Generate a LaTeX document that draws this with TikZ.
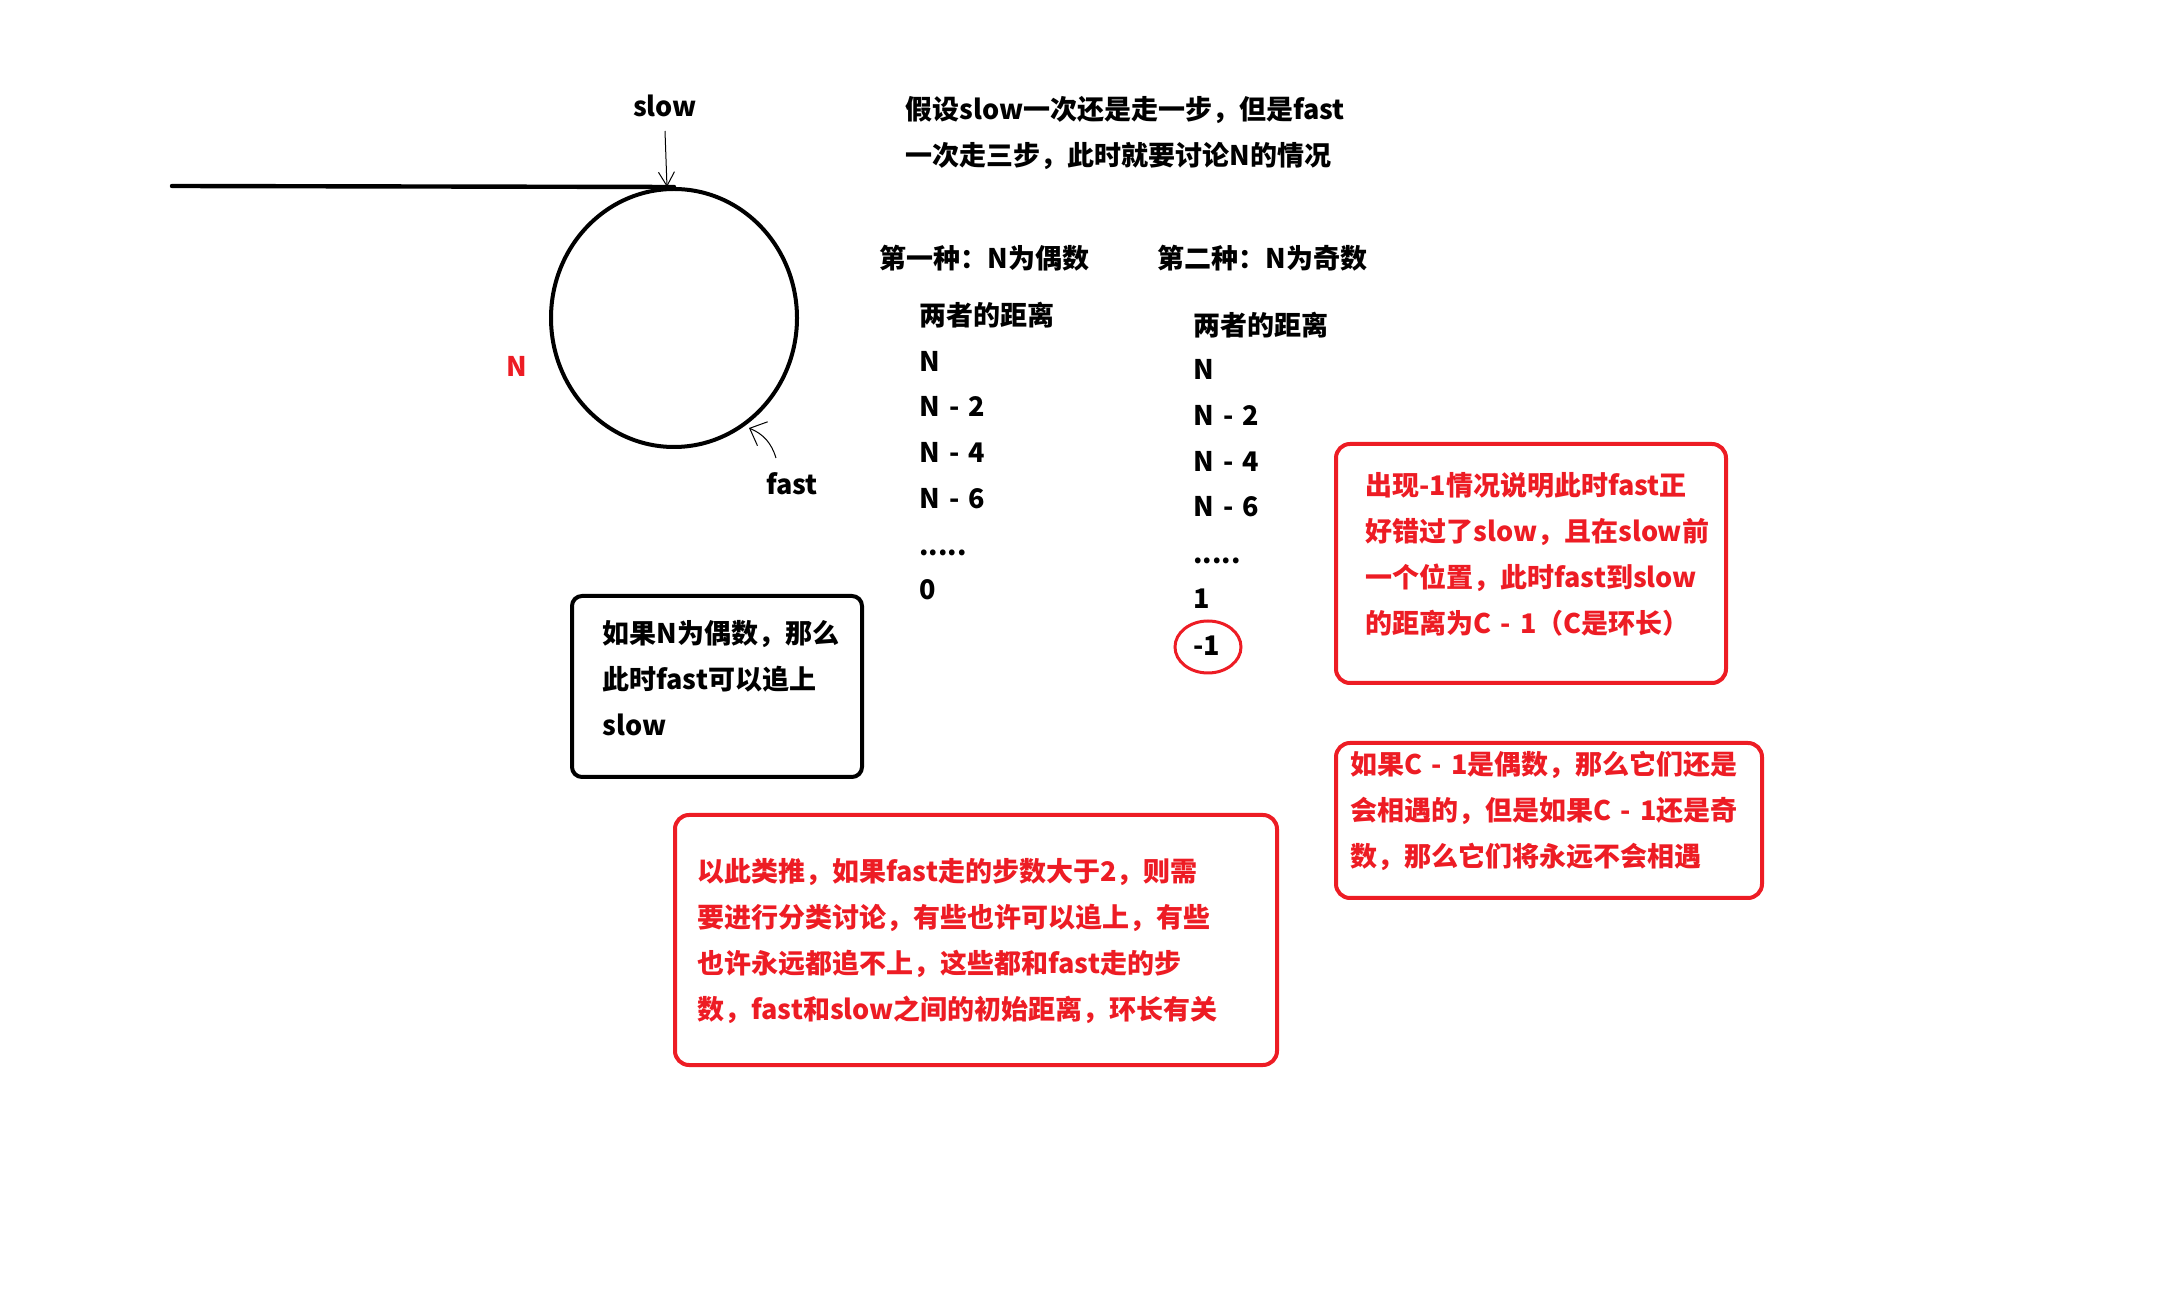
\documentclass[tikz,border=0pt]{standalone}
\usepackage{fontspec}
\setmainfont{Noto Sans CJK SC}
\usetikzlibrary{arrows.meta,shapes.geometric}
\definecolor{pred}{RGB}{237,28,36}
\newcommand{\dsp}{\hspace{0.34em}}
\begin{document}
\begin{tikzpicture}[x=0.5pt,y=-0.5pt,
  txt/.style={font=\bfseries\fontsize{13.5}{23}\selectfont, inner sep=0pt, anchor=west, align=left},
  rtxt/.style={txt, text=pred},
  bbox/.style={draw=black, line width=2pt, rounded corners=5pt, inner sep=0pt},
  rbox/.style={draw=pred, line width=2pt, rounded corners=7pt, inner sep=0pt},
  thin/.style={line width=0.5pt},
]
\useasboundingbox (0,0) rectangle (2160,1304);

% ring and tail
\node[draw, ellipse, line width=2pt, inner sep=0pt, minimum width=123pt, minimum height=129pt] (ring) at (674,318) {};
\coordinate (tailstart) at (172,186);
\draw[line width=2.2pt, line cap=round] (tailstart) -- (ring.north);

\node[txt, anchor=center] (slowlbl) at (665,106) {slow};
\coordinate (slowtail) at (665,131);
\coordinate (slowtip) at (667,187);
\draw[thin, -{Straight Barb[length=7pt,width=8pt]}] (slowtail) -- (slowtip);

\node[rtxt, anchor=center] (nlbl) at (517,366) {N};

\node[txt, anchor=center] (fastlbl) at (792,484) {fast};
\coordinate (fasttail) at (776,458);
\coordinate (fasttip) at (749,428);
\draw[thin, -{Straight Barb[length=7pt,width=13pt]}] (fasttail) to[bend right=25] (fasttip);

% title
\node[txt] (title) at (905,133.5) {假设slow一次还是走一步，但是fast\\一次走三步，此时就要讨论N的情况};

\node[txt] (case1) at (879,258) {第一种：N为偶数};
\node[txt] (case2) at (1157,258) {第二种：N为奇数};

% left column
\node[txt] (l0) at (919,315) {两者的距离};
\node[txt] (l1) at (919,361) {N};
\node[txt] (l2) at (919,406) {N\dsp-\dsp2};
\node[txt] (l3) at (919,452) {N\dsp-\dsp4};
\node[txt] (l4) at (919,499) {N\dsp-\dsp6};
\node[txt] (l5) at (919,553) {.....};
\node[txt] (l6) at (919,590) {0};

% right column
\node[txt] (r0) at (1193,325) {两者的距离};
\node[txt] (r1) at (1193,369) {N};
\node[txt] (r2) at (1193,415) {N\dsp-\dsp2};
\node[txt] (r3) at (1193,461) {N\dsp-\dsp4};
\node[txt] (r4) at (1193,507) {N\dsp-\dsp6};
\node[txt] (r5) at (1193,561) {.....};
\node[txt] (r6) at (1193,599) {1};
\node[txt] (r7) at (1193,646) {-1};
\draw[draw=pred, line width=1.5pt] (1208,647) ellipse [x radius=33, y radius=26];

% black box
\node[bbox, minimum width=145pt, minimum height=90.5pt] (evenbox) at (717,686.5) {};
\node[txt] (eventxt) at (602,678) {如果N为偶数，那么\\此时fast可以追上\\slow};

% red box 1
\node[rbox, minimum width=195pt, minimum height=119.5pt] (missbox) at (1531,563.5) {};
\node[rtxt] (misstxt) at (1365,554) {出现-1情况说明此时fast正\\好错过了slow，且在slow前\\一个位置，此时fast到slow\\的距离为C\dsp-\dsp1（C是环长）};

% red box 2
\node[rbox, minimum width=213pt, minimum height=77.5pt] (parbox) at (1549,820.5) {};
\node[rtxt] (partxt) at (1350,811) {如果C\dsp-\dsp1是偶数，那么它们还是\\会相遇的，但是如果C\dsp-\dsp1还是奇\\数，那么它们将永远不会相遇};

% red box 3
\node[rbox, minimum width=301pt, minimum height=125pt] (genbox) at (976,940) {};
\node[rtxt] (gentxt) at (697,941) {以此类推，如果fast走的步数大于2，则需\\要进行分类讨论，有些也许可以追上，有些\\也许永远都追不上，这些都和fast走的步\\数，fast和slow之间的初始距离，环长有关};
\end{tikzpicture}
\end{document}
